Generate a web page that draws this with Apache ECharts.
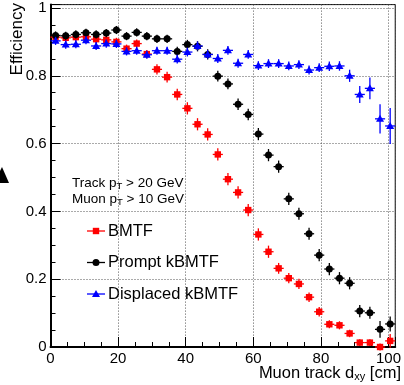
<!DOCTYPE html>
<html>
<head>
<meta charset="utf-8">
<script src="https://cdn.jsdelivr.net/npm/echarts@6/dist/echarts.min.js"></script>
<style>
  html, body { margin: 0; padding: 0; background: #fff; }
  #chart { width: 404px; height: 385px; }
</style>
</head>
<body>
<div id="chart"></div>
<script>
// Bin centres of the muon track d_xy histogram (3 cm bins)
const dxyCenters = [1.5, 4.5, 7.5, 10.5, 13.5, 16.5, 19.5, 22.5, 25.5, 28.5, 31.5, 34.5,
  37.5, 40.5, 43.5, 46.5, 49.5, 52.5, 55.5, 58.5, 61.5, 64.5, 67.5, 70.5, 73.5, 76.5,
  79.5, 82.5, 85.5, 88.5, 91.5, 94.5, 97.5, 100.5];
const binHalfWidth = 1.5;

// Efficiency of the legacy BMTF
const bmtfEff = [0.914, 0.912, 0.914, 0.915, 0.908, 0.906, 0.900, 0.880, 0.895, 0.864, 0.819, 0.796,
  0.745, 0.704, 0.657, 0.627, 0.568, 0.495, 0.456, 0.404, 0.332, 0.281, 0.232, 0.203, 0.186, 0.147,
  0.104, 0.067, 0.064, 0.040, 0.013, 0.013, 0.000, 0.018];
const bmtfErr = [0.012, 0.012, 0.012, 0.012, 0.012, 0.012, 0.012, 0.012, 0.012, 0.012, 0.015, 0.016,
  0.017, 0.018, 0.018, 0.018, 0.018, 0.018, 0.018, 0.018, 0.018, 0.018, 0.016, 0.015, 0.015, 0.014,
  0.014, 0.012, 0.012, 0.011, 0.010, 0.010, 0.010, 0.020];

// Efficiency of the prompt kBMTF
const promptEff = [0.919, 0.918, 0.922, 0.927, 0.922, 0.926, 0.935, 0.917, 0.928, 0.917, 0.909, 0.909,
  0.872, 0.892, 0.887, 0.863, 0.799, 0.776, 0.716, 0.686, 0.628, 0.566, 0.532, 0.437, 0.393, 0.334,
  0.271, 0.230, 0.203, 0.188, 0.106, 0.101, 0.052, 0.068];
const promptErr = [0.012, 0.012, 0.012, 0.012, 0.012, 0.012, 0.012, 0.012, 0.012, 0.012, 0.012, 0.012,
  0.014, 0.014, 0.015, 0.015, 0.016, 0.016, 0.017, 0.017, 0.018, 0.018, 0.018, 0.018, 0.018, 0.018,
  0.018, 0.018, 0.018, 0.018, 0.018, 0.018, 0.025, 0.022];

// Efficiency of the displaced kBMTF
const displacedEff = [0.903, 0.892, 0.893, 0.905, 0.888, 0.895, 0.894, 0.872, 0.874, 0.862, 0.874, 0.874,
  0.849, 0.870, 0.888, 0.863, 0.851, 0.875, 0.837, 0.863, 0.830, 0.836, 0.836, 0.829, 0.833, 0.817,
  0.824, 0.828, 0.829, 0.800, 0.745, 0.763, 0.673, 0.652];
const displacedErr = [0.012, 0.012, 0.012, 0.012, 0.012, 0.012, 0.012, 0.012, 0.012, 0.012, 0.012, 0.012,
  0.013, 0.013, 0.013, 0.013, 0.013, 0.013, 0.013, 0.013, 0.013, 0.013, 0.013, 0.013, 0.013, 0.013,
  0.013, 0.014, 0.014, 0.018, 0.025, 0.032, 0.043, 0.053];

const seriesNames = ['BMTF', 'Prompt kBMTF', 'Displaced kBMTF'];
const seriesColors = ['#ff0000', '#000000', '#0000ff'];
const markerKinds = ['square', 'circle', 'triangle'];

const FONT = '"Liberation Sans", Arial, Helvetica, sans-serif';

function markerShape(kind, cx, cy, color) {
  if (kind === 'square') {
    return { type: 'rect', shape: { x: cx - 3.2, y: cy - 3.2, width: 6.4, height: 6.4 },
      style: { fill: color } };
  }
  if (kind === 'circle') {
    return { type: 'circle', shape: { cx: cx, cy: cy, r: 3.5 }, style: { fill: color } };
  }
  return { type: 'polygon', shape: { points: [[cx, cy - 4], [cx + 4, cy + 3], [cx - 4, cy + 3]] },
    style: { fill: color } };
}

function makeSeries(idx, values, errors) {
  const color = seriesColors[idx];
  const kind = markerKinds[idx];
  return {
    name: seriesNames[idx],
    type: 'custom',
    clip: false,
    data: dxyCenters.map((x, i) => [x, values[i], errors[i]]),
    renderItem: function (params, api) {
      const x = api.value(0), y = api.value(1), e = api.value(2);
      const c = api.coord([x, y]);
      const l = api.coord([x - binHalfWidth, y]);
      const r = api.coord([x + binHalfWidth, y]);
      const t = api.coord([x, y + e]);
      const b = api.coord([x, y - e]);
      const ls = { stroke: color, lineWidth: 1.3 };
      return {
        type: 'group',
        children: [
          { type: 'line', shape: { x1: l[0], y1: l[1], x2: r[0], y2: r[1] }, style: ls },
          { type: 'line', shape: { x1: t[0], y1: t[1], x2: b[0], y2: b[1] }, style: ls },
          markerShape(kind, c[0], c[1], color)
        ]
      };
    }
  };
}

const chart = echarts.init(document.getElementById('chart'), null, { renderer: 'canvas' });

const legendY = [231, 262.5, 294];
const legendGraphics = [];
seriesNames.forEach((name, i) => {
  legendGraphics.push({ type: 'line', shape: { x1: 87, y1: legendY[i], x2: 105, y2: legendY[i] },
    style: { stroke: seriesColors[i], lineWidth: 1.3 } });
  legendGraphics.push(markerShape(markerKinds[i], 96, legendY[i], seriesColors[i]));
  legendGraphics.push({ type: 'text', x: 108, y: legendY[i],
    style: { text: name, fill: '#000', font: '16.5px ' + FONT, textVerticalAlign: 'middle' } });
});

chart.setOption({
  animation: false,
  backgroundColor: '#fff',
  grid: { left: 50.5, right: 6.5, top: 4.6, bottom: 38, show: true, borderColor: '#000', borderWidth: 1 },
  xAxis: {
    type: 'value', min: 0, max: 102, interval: 20,
    axisLine: { show: true, onZero: false, lineStyle: { color: '#000', width: 2 } },
    axisTick: { inside: true, length: 10, lineStyle: { color: '#000', width: 1 } },
    minorTick: { show: true, splitNumber: 4, length: 5, lineStyle: { color: '#000', width: 1 } },
    axisLabel: { showMaxLabel: false, color: '#000', fontSize: 15, fontFamily: FONT, margin: 4 },
    splitLine: { show: true, lineStyle: { color: '#555', type: [1, 2], width: 1 } }
  },
  yAxis: {
    type: 'value', min: 0, max: 1.01, interval: 0.2,
    axisLine: { show: true, onZero: false, lineStyle: { color: '#000', width: 2 } },
    axisTick: { inside: true, length: 10, lineStyle: { color: '#000', width: 1 } },
    minorTick: { show: true, splitNumber: 4, length: 5, lineStyle: { color: '#000', width: 1 } },
    axisLabel: { showMaxLabel: false, color: '#000', fontSize: 15, fontFamily: FONT, margin: 4 },
    splitLine: { show: true, lineStyle: { color: '#555', type: [1, 2], width: 1 } }
  },
  series: [
    makeSeries(0, bmtfEff, bmtfErr),
    makeSeries(1, promptEff, promptErr),
    makeSeries(2, displacedEff, displacedErr)
  ],
  graphic: [
    { type: 'text', x: 17, y: 3, rotation: Math.PI / 2,
      style: { text: 'Efficiency', fill: '#000', font: '17px ' + FONT, textAlign: 'right', textVerticalAlign: 'middle' } },
    { type: 'text', x: 401, y: 373,
      style: { text: 'Muon track d{s|xy} [cm]', fill: '#000', font: '16.5px ' + FONT, textAlign: 'right', textVerticalAlign: 'middle',
        rich: { s: { fontSize: 11, fontFamily: FONT, padding: [8, 0, 0, 0] } } } },
    { type: 'text', x: 72, y: 183,
      style: { text: 'Track p{s|T} > 20 GeV', fill: '#000', font: '13.5px ' + FONT, textVerticalAlign: 'middle',
        rich: { s: { fontSize: 9.5, fontFamily: FONT, padding: [6, 0, 0, 0] } } } },
    { type: 'text', x: 72, y: 199,
      style: { text: 'Muon p{s|T} > 10 GeV', fill: '#000', font: '13.5px ' + FONT, textVerticalAlign: 'middle',
        rich: { s: { fontSize: 9.5, fontFamily: FONT, padding: [6, 0, 0, 0] } } } },
    { type: 'polygon', shape: { points: [[2, 167], [9, 183], [0, 183], [0, 171]] }, style: { fill: '#000' } }
  ].concat(legendGraphics)
});
</script>
</body>
</html>
